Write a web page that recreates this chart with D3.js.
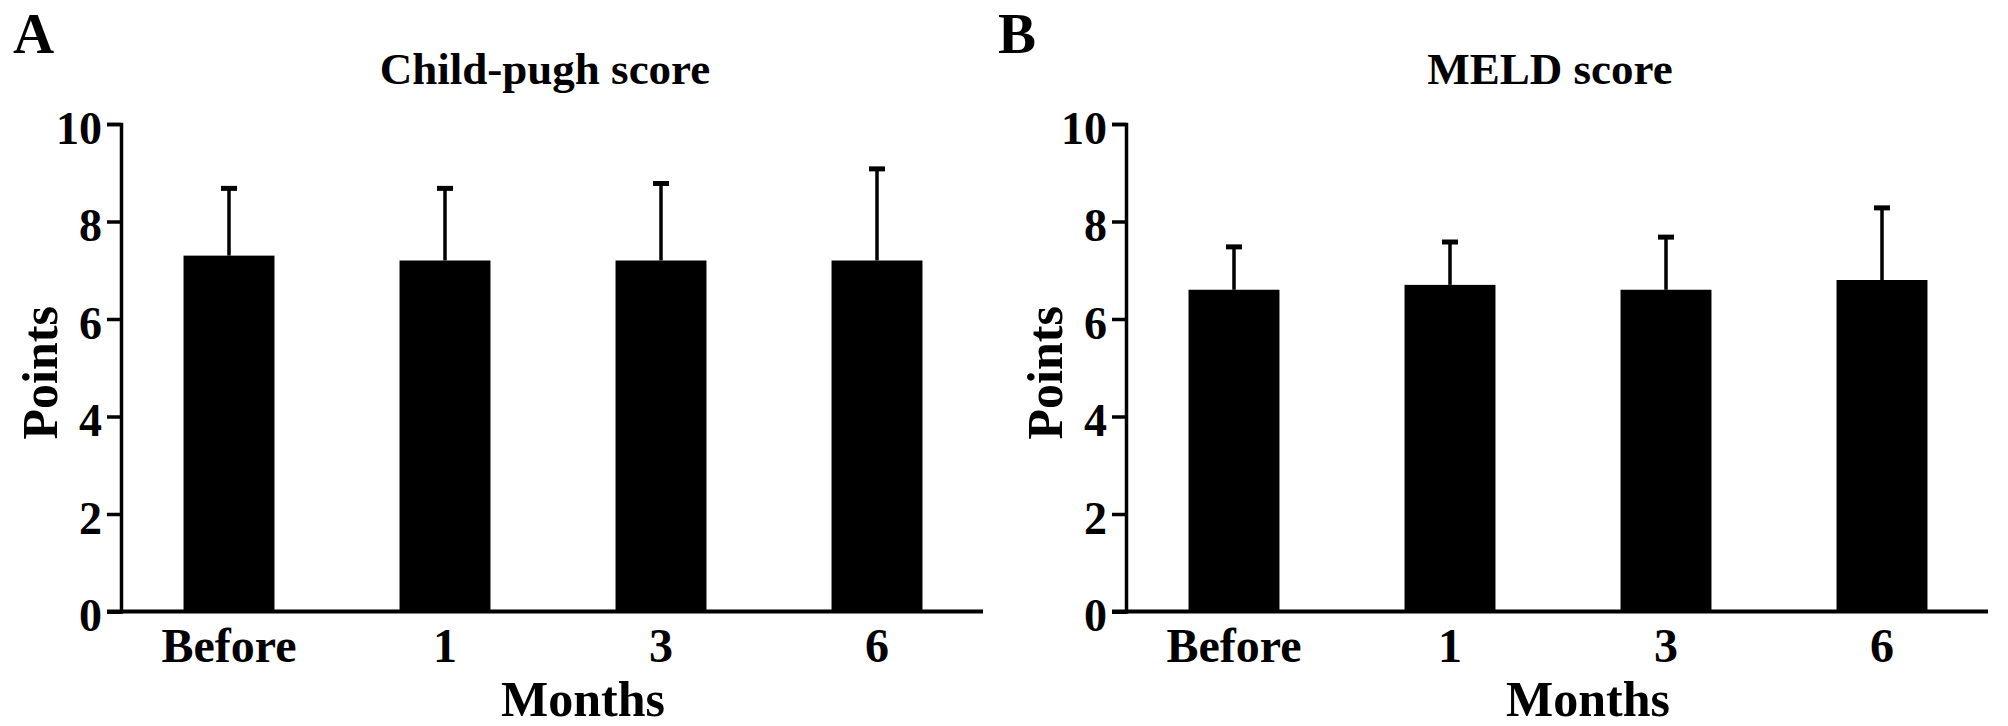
<!DOCTYPE html>
<html>
<head>
<meta charset="utf-8">
<script src="https://cdn.jsdelivr.net/npm/d3@7"></script>
<style>
  html, body { margin: 0; padding: 0; background: #fff; }
  svg { display: block; }
  text { font-family: "Liberation Serif", "Times New Roman", serif; font-weight: bold; fill: #000; }
</style>
</head>
<body>
<script>
// ---- data ----
const categories = ["Before", "1", "3", "6"];
const childPughMean = [7.3, 7.2, 7.2, 7.2];
const childPughSD = [1.4, 1.5, 1.6, 1.9];
const meldMean = [6.6, 6.7, 6.6, 6.8];
const meldSD = [0.9, 0.9, 1.1, 1.5];
const yTicks = [0, 2, 4, 6, 8, 10];
const panelLetters = ["A", "B"];
const panelTitles = ["Child-pugh score", "MELD score"];
const xAxisTitle = "Months";
const yAxisTitle = "Points";

// ---- layout ----
const W = 2008, H = 726;
const svg = d3.select("body").append("svg").attr("width", W).attr("height", H);

const yTop = 124, yBottom = 611.5;
const panels = [
  { left: 121, right: 985, letterX: 13, mean: childPughMean, sd: childPughSD },
  { left: 1126, right: 1990, letterX: 998, mean: meldMean, sd: meldSD }
];

panels.forEach((p, i) => {
  const g = svg.append("g");
  const x = d3.scaleBand().domain(categories).range([p.left, p.right])
    .paddingInner(0.579).paddingOuter(0.2895);
  const y = d3.scaleLinear().domain([0, 10]).range([yBottom, yTop]);

  // bars
  const data = categories.map((c, k) => ({ c, m: p.mean[k], s: p.sd[k] }));
  g.selectAll("rect.bar").data(data).join("rect")
    .attr("class", "bar")
    .attr("x", d => x(d.c))
    .attr("width", x.bandwidth())
    .attr("y", d => y(d.m))
    .attr("height", d => y(0) - y(d.m))
    .attr("fill", "#000");

  // error bars (upper only)
  g.selectAll("line.err").data(data).join("line")
    .attr("class", "err")
    .attr("x1", d => x(d.c) + x.bandwidth() / 2)
    .attr("x2", d => x(d.c) + x.bandwidth() / 2)
    .attr("y1", d => y(d.m))
    .attr("y2", d => y(d.m + d.s))
    .attr("stroke", "#000").attr("stroke-width", 3.5);
  g.selectAll("line.cap").data(data).join("line")
    .attr("class", "cap")
    .attr("x1", d => x(d.c) + x.bandwidth() / 2 - 8)
    .attr("x2", d => x(d.c) + x.bandwidth() / 2 + 8)
    .attr("y1", d => y(d.m + d.s) + 1)
    .attr("y2", d => y(d.m + d.s) + 1)
    .attr("stroke", "#000").attr("stroke-width", 5);

  // y axis
  const yAxis = d3.axisLeft(y).tickValues(yTicks).tickSize(14).tickSizeOuter(14).tickPadding(5);
  const ya = g.append("g").attr("transform", `translate(${p.left},0)`).call(yAxis);
  ya.select(".domain").attr("stroke", "#000").attr("stroke-width", 3.5);
  ya.selectAll(".tick line").attr("stroke", "#000").attr("stroke-width", 3.5);
  ya.selectAll(".tick text")
    .style("font-family", '"Liberation Serif", "Times New Roman", serif')
    .style("font-weight", "bold")
    .style("font-size", "46px")
    .attr("dy", "0.42em")
    .attr("fill", "#000");

  // x axis
  const xAxis = d3.axisBottom(x).tickSize(0).tickSizeOuter(0).tickPadding(16);
  const xa = g.append("g").attr("transform", `translate(0,${yBottom})`).call(xAxis);
  xa.select(".domain").remove();
  xa.selectAll(".tick text")
    .style("font-family", '"Liberation Serif", "Times New Roman", serif')
    .style("font-weight", "bold")
    .style("font-size", "48px")
    .attr("dy", "0.71em")
    .attr("fill", "#000");
  g.append("line")
    .attr("x1", p.left - 14).attr("x2", p.right - 2)
    .attr("y1", yBottom).attr("y2", yBottom)
    .attr("stroke", "#000").attr("stroke-width", 4);

  const cx = (p.left + p.right) / 2;
  // panel title
  g.append("text").attr("x", cx - 8).attr("y", 84)
    .attr("text-anchor", "middle").style("font-size", "45px").text(panelTitles[i]);
  // panel letter
  g.append("text").attr("x", p.letterX).attr("y", 53)
    .style("font-size", "57px").text(panelLetters[i]);
  // x axis title
  g.append("text").attr("x", cx + 30).attr("y", 716)
    .attr("text-anchor", "middle").style("font-size", "50px").text(xAxisTitle);
  // y axis title
  g.append("text")
    .attr("transform", `translate(${p.left - 64},${(yTop + yBottom) / 2 + 5}) rotate(-90)`)
    .attr("text-anchor", "middle").style("font-size", "50px").text(yAxisTitle);
});
</script>
</body>
</html>
